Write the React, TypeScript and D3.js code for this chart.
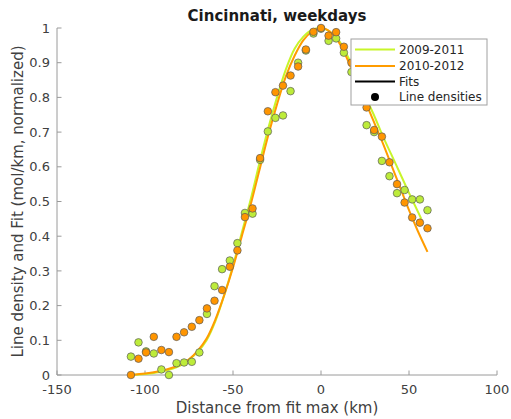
import React from "react";
import * as d3 from "d3";

// ---- Data ----
const distances = [
  -108, -103.7, -99.4, -95.0, -90.7, -86.4, -82.1, -77.8, -73.4, -69.1,
  -64.8, -60.5, -56.2, -51.8, -47.5, -43.2, -38.9, -34.6, -30.2, -25.9,
  -21.6, -17.3, -13.0, -8.6, -4.3, 0, 4.3, 8.6, 13.0, 17.3,
  21.6, 25.9, 30.2, 34.6, 38.9, 43.2, 47.5, 51.8, 56.2, 60.5,
];
const density2009 = [
  0.053, 0.094, 0.068, 0.062, 0.016, 0.0, 0.034, 0.036, 0.038, 0.065,
  0.176, 0.256, 0.305, 0.33, 0.38, 0.467, 0.465, 0.62, 0.702, 0.741,
  0.748, 0.818, 0.9, 0.935, 0.984, 0.998, 0.963, 0.97, 0.929, 0.873,
  0.8, 0.72, 0.7, 0.617, 0.573, 0.524, 0.533, 0.506, 0.506, 0.475,
];
const density2010 = [
  0.0, 0.047, 0.065, 0.11, 0.072, 0.066, 0.11, 0.123, 0.139, 0.158,
  0.192, 0.214, 0.245, 0.312, 0.359, 0.455, 0.48, 0.625, 0.76, 0.815,
  0.834, 0.863, 0.889, 0.938, 0.989, 1.0, 0.978, 0.988, 0.946, 0.9,
  0.83, 0.771, 0.706, 0.687, 0.613, 0.55, 0.497, 0.454, 0.439, 0.423,
];
const fitX2009 = [-108, -100, -90, -80, -70, -65, -60, -55, -50, -45, -40, -35, -30, -25, -20, -15, -10, -5, 0, 5, 10, 15, 20, 25, 30, 35, 40, 45, 50, 57];
const fitY2009 = [0.0, 0.003, 0.01, 0.027, 0.067, 0.1, 0.155, 0.23, 0.315, 0.41, 0.505, 0.61, 0.71, 0.8, 0.88, 0.94, 0.975, 0.995, 1.0, 0.99, 0.965, 0.92, 0.865, 0.805, 0.75, 0.69, 0.635, 0.58, 0.525, 0.45];
const fitX2010 = [-108, -100, -95, -90, -85, -80, -75, -70, -65, -60, -55, -50, -45, -40, -35, -30, -25, -20, -15, -10, -5, 0, 5, 10, 15, 20, 25, 30, 35, 40, 45, 50, 55, 60.5];
const fitY2010 = [0.0, 0.004, 0.008, 0.013, 0.02, 0.03, 0.045, 0.07, 0.105, 0.16, 0.23, 0.31, 0.4, 0.49, 0.59, 0.69, 0.78, 0.86, 0.92, 0.965, 0.99, 1.0, 0.99, 0.96, 0.91, 0.85, 0.79, 0.73, 0.67, 0.605, 0.54, 0.475, 0.415, 0.355];
const xTicks = [-150, -100, -50, 0, 50, 100];
const yTicks = [0, 0.1, 0.2, 0.3, 0.4, 0.5, 0.6, 0.7, 0.8, 0.9, 1];
const legendLabels = ["2009-2011", "2010-2012", "Fits", "Line densities"];

const GREEN_LINE = "#c8f52a";
const GREEN_FILL = "#bdec3a";
const ORANGE_LINE = "#ff9c00";
const ORANGE_FILL = "#ff9500";
const AXIS = "#9a9a9a";
const TEXT = "#404040";
const FONT = "DejaVu Sans, sans-serif";

export default function App() {
  const left = 57, right = 497, top = 28, bottom = 375;
  const x = d3.scaleLinear().domain([-150, 100]).range([left, right]);
  const y = d3.scaleLinear().domain([0, 1]).range([bottom, top]);
  const line = d3
    .line<[number, number]>()
    .x((d) => x(d[0]))
    .y((d) => y(d[1]))
    .curve(d3.curveCatmullRom.alpha(0.5));
  const g2009 = fitX2009.map((v, i) => [v, fitY2009[i]] as [number, number]);
  const g2010 = fitX2010.map((v, i) => [v, fitY2010[i]] as [number, number]);
  const tickLen = 4.5;
  const lx = 351, ly = 39, lw = 136, lh = 66;
  const rows = [49.5, 66, 81.5, 97];
  return (
    <svg
      width={511}
      height={419}
      style={{ position: "absolute", left: 0, top: 0, background: "#fff" }}
      fontFamily={FONT}
    >
      <rect x={0} y={0} width={511} height={419} fill="#fff" />
      {/* axes */}
      <line x1={left} x2={right} y1={bottom} y2={bottom} stroke={AXIS} strokeWidth={1} />
      <line x1={left} x2={left} y1={top} y2={bottom} stroke={AXIS} strokeWidth={1} />
      {xTicks.map((t) => (
        <g key={"x" + t}>
          <line x1={x(t)} x2={x(t)} y1={bottom} y2={bottom - tickLen} stroke={AXIS} />
          <text x={x(t)} y={394} textAnchor="middle" fontSize={13} fill={TEXT}>
            {t}
          </text>
        </g>
      ))}
      {yTicks.map((t) => (
        <g key={"y" + t}>
          <line x1={left} x2={left + tickLen} y1={y(t)} y2={y(t)} stroke={AXIS} />
          <text x={50} y={y(t)} dy="0.36em" textAnchor="end" fontSize={13} fill={TEXT}>
            {String(t)}
          </text>
        </g>
      ))}
      <text x={(left + right) / 2} y={21} textAnchor="middle" fontSize={15} fontWeight="bold" fill="#1a1a1a">
        Cincinnati, weekdays
      </text>
      <text x={(left + right) / 2} y={413} textAnchor="middle" fontSize={15} fill={TEXT}>
        Distance from fit max (km)
      </text>
      <text
        transform={`translate(23, ${(top + bottom) / 2}) rotate(-90)`}
        textAnchor="middle"
        fontSize={15}
        fill={TEXT}
      >
        Line density and Fit (mol/km, normalized)
      </text>
      {/* fits */}
      <path d={line(g2009) || ""} fill="none" stroke={GREEN_LINE} strokeWidth={2} />
      <path d={line(g2010) || ""} fill="none" stroke={ORANGE_LINE} strokeWidth={2} />
      {/* points */}
      {distances.map((d, i) => (
        <circle key={"g" + i} cx={x(d)} cy={y(density2009[i])} r={3.8} fill={GREEN_FILL} stroke="#5a5a5a" strokeWidth={0.7} />
      ))}
      {distances.map((d, i) => (
        <circle key={"o" + i} cx={x(d)} cy={y(density2010[i])} r={3.8} fill={ORANGE_FILL} stroke="#5a5a5a" strokeWidth={0.7} />
      ))}
      {/* legend */}
      <rect x={lx} y={ly} width={lw} height={lh} fill="#fff" stroke="#a0a0a0" strokeWidth={1} />
      <line x1={355} x2={395} y1={rows[0]} y2={rows[0]} stroke={GREEN_LINE} strokeWidth={2} />
      <line x1={355} x2={395} y1={rows[1]} y2={rows[1]} stroke={ORANGE_LINE} strokeWidth={2} />
      <line x1={355} x2={395} y1={rows[2]} y2={rows[2]} stroke="#000" strokeWidth={2} />
      <circle cx={375} cy={rows[3]} r={4} fill="#000" />
      {legendLabels.map((lab, i) => (
        <text key={lab} x={399} y={rows[i]} dy="0.36em" fontSize={12} fill="#262626">
          {lab}
        </text>
      ))}
    </svg>
  );
}
